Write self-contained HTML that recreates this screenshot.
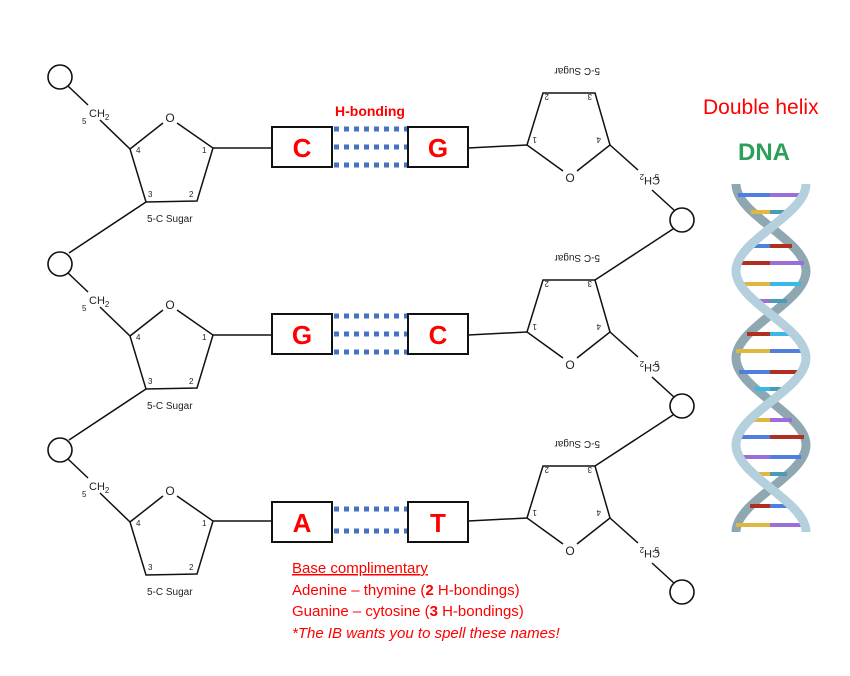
<!DOCTYPE html>
<html><head><meta charset="utf-8"><style>
html,body{margin:0;padding:0;background:#fff;}
svg{display:block;font-family:"Liberation Sans",Arial,sans-serif;}
</style></head><body>
<svg width="850" height="676" viewBox="0 0 850 676" xmlns="http://www.w3.org/2000/svg">
<defs>
<g id="L">
  <circle cx="60" cy="77" r="12" fill="#fff" stroke="#111" stroke-width="1.6"/>
  <line x1="68" y1="86" x2="88" y2="105" stroke="#111" stroke-width="1.5"/>
  <text x="82" y="124" font-size="8" fill="#222">5</text>
  <text x="89" y="117" font-size="11" fill="#222">CH<tspan font-size="8" dy="3">2</tspan></text>
  <polyline points="100,120 130,149 146,202 197,201 213,148 177,123" fill="none" stroke="#111" stroke-width="1.5"/>
  <line x1="130" y1="149" x2="163" y2="123" stroke="#111" stroke-width="1.5"/>
  <text x="170" y="122" font-size="12" fill="#222" text-anchor="middle">O</text>
  <text x="136" y="153" font-size="8" fill="#222">4</text>
  <text x="202" y="153" font-size="8" fill="#222">1</text>
  <text x="148" y="197" font-size="8" fill="#222">3</text>
  <text x="189" y="197" font-size="8" fill="#222">2</text>
  <text x="147" y="222" font-size="10" fill="#222">5-C Sugar</text>
  <line x1="213" y1="148" x2="272" y2="148" stroke="#111" stroke-width="1.5"/>
  <line x1="468" y1="148" x2="527" y2="145" stroke="#111" stroke-width="1.5"/>
  <polyline points="563,171 527,145 543,93 595,93 610,145 577,171" fill="none" stroke="#111" stroke-width="1.5"/>
  <text x="570" y="182" font-size="12" fill="#222" text-anchor="middle">O</text>
  <line x1="610" y1="145" x2="638" y2="170" stroke="#111" stroke-width="1.5"/>
  <text x="560" y="76" font-size="10" fill="#222" transform="rotate(180 580 72)">5-C Sugar</text>
  <text x="533" y="143" font-size="8" fill="#222" transform="rotate(180 535 140)">1</text>
  <text x="597" y="143" font-size="8" fill="#222" transform="rotate(180 599 140)">4</text>
  <text x="545" y="100" font-size="8" fill="#222" transform="rotate(180 547 97)">2</text>
  <text x="588" y="100" font-size="8" fill="#222" transform="rotate(180 590 97)">3</text>
  <text x="640" y="185" font-size="11" fill="#222" transform="rotate(180 650 181)">CH<tspan font-size="8" dy="3">2</tspan></text>
  <text x="655" y="180" font-size="8" fill="#222" transform="rotate(180 657 177)">5</text>
  <line x1="652" y1="190" x2="675" y2="211" stroke="#111" stroke-width="1.5"/>
</g>
</defs>
<use href="#L"/>
<use href="#L" y="187"/>
<use href="#L" y="373"/>
<line x1="146" y1="202" x2="69" y2="253" stroke="#111" stroke-width="1.5"/>
<line x1="146" y1="389" x2="69" y2="440" stroke="#111" stroke-width="1.5"/>
<circle cx="682" cy="220" r="12" fill="#fff" stroke="#111" stroke-width="1.6"/>
<circle cx="682" cy="406" r="12" fill="#fff" stroke="#111" stroke-width="1.6"/>
<circle cx="682" cy="592" r="12" fill="#fff" stroke="#111" stroke-width="1.6"/>
<line x1="673" y1="229" x2="595" y2="280" stroke="#111" stroke-width="1.5"/>
<line x1="673" y1="415" x2="595" y2="466" stroke="#111" stroke-width="1.5"/>

<g stroke="#4472c4" stroke-width="5" stroke-dasharray="5,5">
  <line x1="334" y1="129" x2="407" y2="129"/><line x1="334" y1="147" x2="407" y2="147"/><line x1="334" y1="165" x2="407" y2="165"/>
  <line x1="334" y1="316" x2="407" y2="316"/><line x1="334" y1="334" x2="407" y2="334"/><line x1="334" y1="352" x2="407" y2="352"/>
  <line x1="334" y1="509" x2="407" y2="509"/><line x1="334" y1="531" x2="407" y2="531"/>
</g>
<g fill="#fff" stroke="#111" stroke-width="2">
  <rect x="272" y="127" width="60" height="40"/><rect x="408" y="127" width="60" height="40"/>
  <rect x="272" y="314" width="60" height="40"/><rect x="408" y="314" width="60" height="40"/>
  <rect x="272" y="502" width="60" height="40"/><rect x="408" y="502" width="60" height="40"/>
</g>
<g fill="#f00" font-weight="bold" font-size="26" text-anchor="middle">
  <text x="302" y="157">C</text><text x="438" y="157">G</text>
  <text x="302" y="344">G</text><text x="438" y="344">C</text>
  <text x="302" y="532">A</text><text x="438" y="532">T</text>
</g>
<text x="370" y="116" fill="#f00" font-weight="bold" font-size="14" text-anchor="middle">H-bonding</text>
<g fill="#f00" font-size="15">
  <text x="292" y="573" text-decoration="underline">Base complimentary</text>
  <text x="292" y="595">Adenine – thymine (<tspan font-weight="bold">2</tspan> H-bondings)</text>
  <text x="292" y="616">Guanine – cytosine (<tspan font-weight="bold">3</tspan> H-bondings)</text>
  <text x="292" y="638" font-style="italic">*The IB wants you to spell these names!</text>
</g>
<text x="703" y="114" fill="#f00" font-size="21">Double helix</text>
<text x="738" y="160" fill="#2ca05a" font-size="24" font-weight="bold">DNA</text>

<path d="M736,184 C736,215 806,240 806,271 C806,302 736,327 736,358 C736,389 806,414 806,445 C806,476 736,501 736,532" fill="none" stroke="#8ea7b0" stroke-width="9"/>
<g stroke-width="4">
<line x1="738" y1="195" x2="770" y2="195" stroke="#4f7fe0"/><line x1="770" y1="195" x2="802" y2="195" stroke="#9a6fd8"/>
<line x1="751" y1="212" x2="770" y2="212" stroke="#e0b840"/><line x1="770" y1="212" x2="789" y2="212" stroke="#4a9bb8"/>
<line x1="748" y1="246" x2="770" y2="246" stroke="#4f7fe0"/><line x1="770" y1="246" x2="792" y2="246" stroke="#b03020"/>
<line x1="736" y1="263" x2="770" y2="263" stroke="#b03020"/><line x1="770" y1="263" x2="804" y2="263" stroke="#9a6fd8"/>
<line x1="739" y1="284" x2="770" y2="284" stroke="#e0b840"/><line x1="770" y1="284" x2="801" y2="284" stroke="#3ab8e8"/>
<line x1="753" y1="301" x2="770" y2="301" stroke="#9a6fd8"/><line x1="770" y1="301" x2="787" y2="301" stroke="#4a9bb8"/>
<line x1="747" y1="334" x2="770" y2="334" stroke="#b03020"/><line x1="770" y1="334" x2="793" y2="334" stroke="#3ab8e8"/>
<line x1="736" y1="351" x2="770" y2="351" stroke="#e0b840"/><line x1="770" y1="351" x2="804" y2="351" stroke="#4f7fe0"/>
<line x1="739" y1="372" x2="770" y2="372" stroke="#4f7fe0"/><line x1="770" y1="372" x2="801" y2="372" stroke="#b03020"/>
<line x1="755" y1="389" x2="770" y2="389" stroke="#3ab8e8"/><line x1="770" y1="389" x2="785" y2="389" stroke="#4a9bb8"/>
<line x1="748" y1="420" x2="770" y2="420" stroke="#e0b840"/><line x1="770" y1="420" x2="792" y2="420" stroke="#9a6fd8"/>
<line x1="736" y1="437" x2="770" y2="437" stroke="#4f7fe0"/><line x1="770" y1="437" x2="804" y2="437" stroke="#b03020"/>
<line x1="739" y1="457" x2="770" y2="457" stroke="#9a6fd8"/><line x1="770" y1="457" x2="801" y2="457" stroke="#4f7fe0"/>
<line x1="753" y1="474" x2="770" y2="474" stroke="#e0b840"/><line x1="770" y1="474" x2="787" y2="474" stroke="#4a9bb8"/>
<line x1="750" y1="506" x2="770" y2="506" stroke="#b03020"/><line x1="770" y1="506" x2="790" y2="506" stroke="#4f7fe0"/>
<line x1="736" y1="525" x2="770" y2="525" stroke="#e0b840"/><line x1="770" y1="525" x2="804" y2="525" stroke="#9a6fd8"/>
</g>
<path d="M806,184 C806,215 736,240 736,271 C736,302 806,327 806,358 C806,389 736,414 736,445 C736,476 806,501 806,532" fill="none" stroke="#b4d0dd" stroke-width="9"/>
</svg>
</body></html>
